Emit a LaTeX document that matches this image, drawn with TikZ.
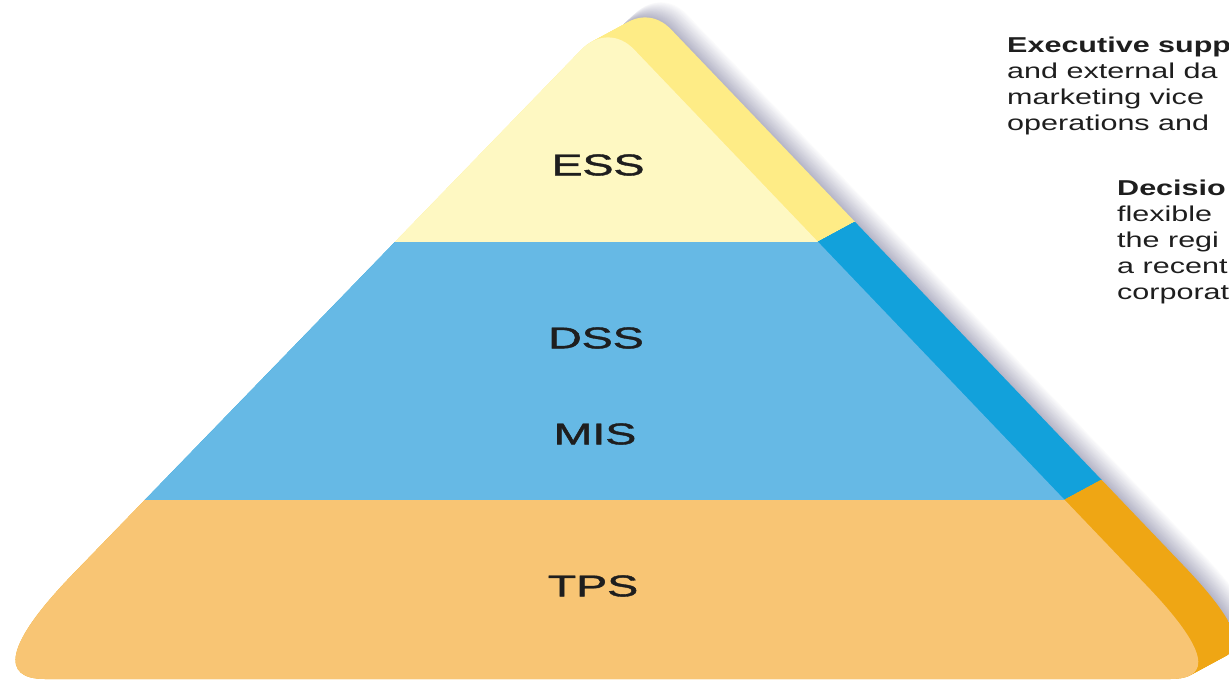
\documentclass[tikz,border=0pt]{standalone}
\usepackage{fontspec}
\setmainfont{Liberation Sans}
\newfontfamily\labfont[FakeBold=1.2]{Liberation Sans}
\usepackage{graphicx}
\definecolor{essF}{HTML}{FEF8C2}
\definecolor{essS}{HTML}{FEEC86}
\definecolor{dssF}{HTML}{66B9E5}
\definecolor{dssS}{HTML}{12A1DB}
\definecolor{tpsF}{HTML}{F8C574}
\definecolor{tpsS}{HTML}{EFA614}
\definecolor{shadowc}{HTML}{A9A9BE}
\definecolor{txt}{HTML}{1E1E1E}
\tikzset{
  frontpath/.style={insert path={(600,679) -- (1170,679) .. controls (1213,679) and (1208.5,650) .. (1146,585) -- (634.6,50) .. controls (619,33.2) and (597.2,33.2) .. (581,50) -- (72,575) .. controls (4.5,645) and (0,679) .. (45,679) -- cycle}},
  lab/.style={font=\labfont\fontsize{30}{36}\selectfont, text=txt, inner sep=0pt},
  body/.style={font=\fontsize{21.5}{26}\selectfont, text=txt, inner sep=0pt, anchor=base west},
}
\begin{document}
\begin{tikzpicture}[x=1pt,y=-1pt]
\useasboundingbox (0,0) rectangle (1229,681);
\clip (0,0) rectangle (1229,681);
% shadow
\foreach \k in {22,...,1} {
  \pgfmathsetmacro{\pc}{(23-\k)*3.8}
  \fill[shadowc!\pc!white, shift={({37+0.723*\k},{-20-0.691*\k})}, frontpath];
}
% side (extrusion)
\foreach \i in {20,...,0} {
  \begin{scope}[shift={({37*\i/20},{-20*\i/20})}]
    \clip[frontpath];
    \fill[essS] (-100,-100) rectangle (1400,242);
    \fill[dssS] (-100,242) rectangle (1400,500);
    \fill[tpsS] (-100,500) rectangle (1400,800);
  \end{scope}
}
% front face
\begin{scope}
  \clip[frontpath];
  \fill[essF] (-100,-100) rectangle (1400,242);
  \fill[dssF] (-100,242) rectangle (1400,500);
  \fill[tpsF] (-100,500) rectangle (1400,800);
\end{scope}
% labels
\node[lab] (ess) at (598,165) {\scalebox{1.55}[1]{ESS}};
\node[lab] (dss) at (596,338) {\scalebox{1.55}[1]{DSS}};
\node[lab] (mis) at (595,434) {\scalebox{1.55}[1]{MIS}};
\node[lab] (tps) at (593,586) {\scalebox{1.55}[1]{TPS}};
% texts
\node[body] (exec) at (1007,52) {\scalebox{1.42}[1]{\begin{tabular}[t]{@{}l@{}}\textbf{Executive supp}\\ and external da\\ marketing vice\\ operations and\end{tabular}}};
\node[body] (dec) at (1117,195) {\scalebox{1.42}[1]{\begin{tabular}[t]{@{}l@{}}\textbf{Decisio}\\ flexible\\ the regi\\ a recent\\ corporat\end{tabular}}};
\end{tikzpicture}
\end{document}
